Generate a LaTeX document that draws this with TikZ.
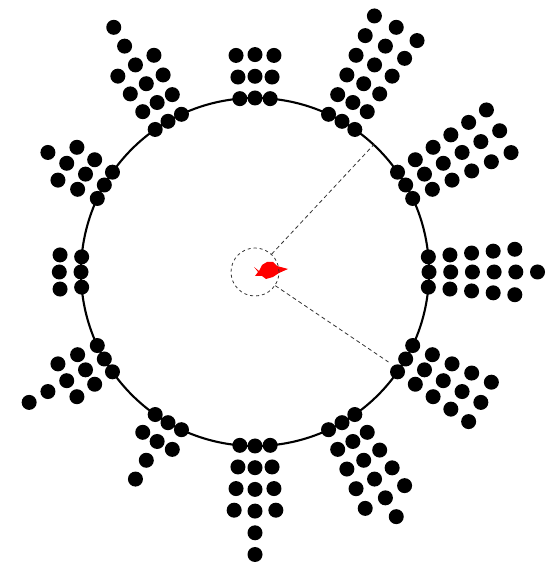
\documentclass[tikz,border=0pt]{standalone}
\usetikzlibrary{calc}
\begin{document}
\begin{tikzpicture}[x=1pt,y=1pt,
  ringstyle/.style={draw=black, line width=2.1pt, circle, inner sep=0pt, minimum size=348pt},
  eyestyle/.style={draw=black!80, line width=0.8pt, circle, inner sep=0pt, minimum size=48pt, dash pattern=on 3pt off 3pt},
  sight/.style={draw=black!80, line width=0.8pt, dash pattern=on 4pt off 3pt},
  fishstyle/.style={fill=red},
  dotstyle/.style={fill=black}]
\useasboundingbox (0,0) rectangle (554,564);
\coordinate (C) at (255,292);
\node[ringstyle] (ring) at (C) {};
\fill[fishstyle] (254,297) -- (259,293) -- (262,299) -- (267,302) -- (273,302) -- (277,298) -- (288,295) -- (279,291) -- (273,287) -- (266,285) -- (262,288) -- (255,288) -- (258,292) -- cycle;
\node[eyestyle] (eye) at (C) {};
\coordinate (s1) at ($(C)+(-34:161pt)$);
\draw[sight] (eye.47) -- (ring.47);
\draw[sight] (eye.-34) -- (s1);
\foreach \a/\n/\m in {90/3/3, 60/6/6, 30/6/6, 0/5/6, -30/5/5, -60/5/6, -90/4/6, -120/2/4, -150/3/5, 180/2/2, 150/3/4, 120/4/6}{
  \foreach \k [evaluate=\k as \r using 174+21.7*(\k-1)] in {1,...,\m}
    \fill[dotstyle] ($(C)+(\a:\r pt)$) circle[radius=7.5pt];
  \foreach \d in {-5,5}{
    \pgfmathsetmacro\ang{\a+\d}
    \foreach \k [evaluate=\k as \r using 174+21.7*(\k-1)] in {1,...,\n}
      \fill[dotstyle] ($(C)+(\ang:\r pt)$) circle[radius=7.5pt];
  }
}
\end{tikzpicture}
\end{document}
